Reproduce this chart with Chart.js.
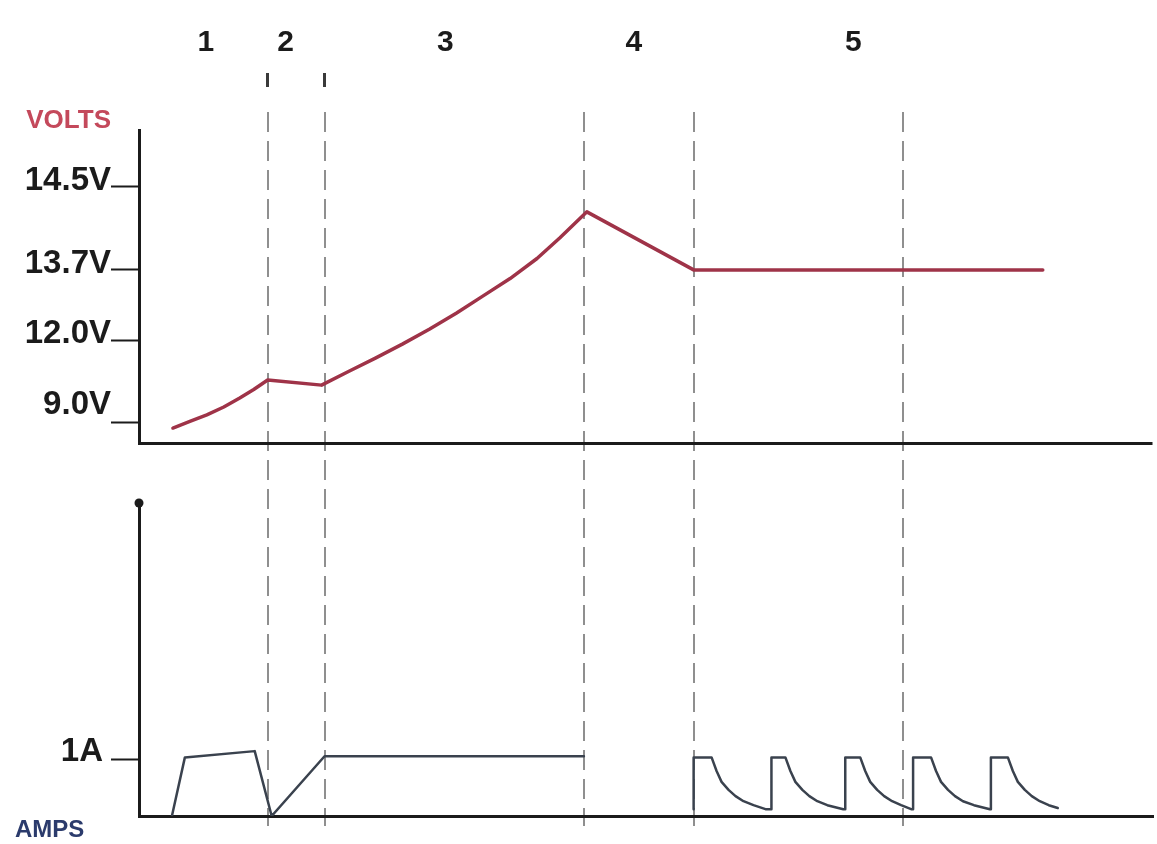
<!DOCTYPE html>
<html>
<head>
<meta charset="utf-8">
<script src="https://cdn.jsdelivr.net/npm/chart.js@4.4.1/dist/chart.umd.min.js"></script>
<style>
  html, body { margin: 0; padding: 0; background: #ffffff; }
  #wrap { position: relative; width: 1157px; height: 844px; }
</style>
</head>
<body>
<div id="wrap"><canvas id="c"></canvas></div>
<script>
// ---------------- data ----------------
const X_MIN = 0, X_MAX = 101.6;                 // time axis (arbitrary units)
const phaseBoundaries = [12.9, 18.6, 44.6, 55.6, 76.6];
const phaseLabels = ['1', '2', '3', '4', '5'];
const phaseLabelPos = [6.7, 14.7, 30.7, 49.6, 71.6];
const phase2Marks = [12.9, 18.6];

const voltTicks = [9.0, 12.0, 13.7, 14.5];
const voltTickLabels = ['9.0V', '12.0V', '13.7V', '14.5V'];
const voltMin = 8.23, voltMax = 15.05;
const voltTime   = [3.4, 5.1, 6.8, 8.5, 10.1, 11.5, 12.9,
  18.3, 21.0, 23.7, 26.4, 29.1, 31.8, 34.5, 37.2, 39.9, 42.2, 44.9,
  55.6, 90.6];
const voltValues = [8.78, 9.02, 9.26, 9.55, 9.88, 10.19, 10.54,
  10.35, 10.85, 11.34, 11.85, 12.26, 12.65, 13.07, 13.49, 13.81, 14.01, 14.26,
  13.7, 13.7];

const ampTicks = [1];
const ampTickLabels = ['1A'];
const ampMin = 0, ampMax = 5.5;
const ampTime = [3.3, 4.6, 11.6, 13.3, 18.6, 44.6, 50.0,
  55.6, 55.6, 57.4, 57.9, 58.4, 59.1, 59.8, 60.6, 61.6, 62.8,
  63.4, 63.4, 64.8, 65.3, 65.8, 66.5, 67.2, 68.0, 69.0, 70.6,
  70.8, 70.8, 72.3, 72.8, 73.3, 74.0, 74.7, 75.5, 76.4, 77.4,
  77.6, 77.6, 79.4, 79.9, 80.4, 81.1, 81.8, 82.6, 83.7, 85.3,
  85.4, 85.4, 87.1, 87.6, 88.1, 88.8, 89.5, 90.3, 91.2, 92.1];
const ampValues = [0, 1.03, 1.14, 0, 1.05, 1.05, null,
  0.12, 1.03, 1.03, 0.79, 0.60, 0.46, 0.35, 0.26, 0.19, 0.12,
  0.12, 1.03, 1.03, 0.79, 0.60, 0.46, 0.35, 0.26, 0.19, 0.12,
  0.12, 1.03, 1.03, 0.79, 0.60, 0.46, 0.35, 0.26, 0.19, 0.12,
  0.12, 1.03, 1.03, 0.79, 0.60, 0.46, 0.35, 0.26, 0.19, 0.12,
  0.12, 1.03, 1.03, 0.79, 0.60, 0.46, 0.35, 0.26, 0.19, 0.14];

// ---------------- non-linear voltage axis (schematic spacing) ----------------
// [value, fraction of axis height from bottom]
const VOLT_STOPS = [[voltMin, 0], [9.0, 0.067], [12.0, 0.329], [13.7, 0.553], [14.5, 0.818], [voltMax, 1]];

class PiecewiseScale extends Chart.LinearScale {
  getPixelForValue(value) {
    if (value === null || value === undefined || isNaN(value)) return NaN;
    const s = VOLT_STOPS;
    let i = 1;
    while (i < s.length - 1 && value > s[i][0]) i++;
    const a = s[i - 1], b = s[i];
    const dec = a[1] + (value - a[0]) * (b[1] - a[1]) / (b[0] - a[0]);
    return this.getPixelForDecimal(dec);
  }
  getValueForPixel(pixel) {
    const dec = this.getDecimalForPixel(pixel);
    const s = VOLT_STOPS;
    let i = 1;
    while (i < s.length - 1 && dec > s[i][1]) i++;
    const a = s[i - 1], b = s[i];
    return a[0] + (dec - a[1]) * (b[0] - a[0]) / (b[1] - a[1]);
  }
}
PiecewiseScale.id = 'piecewise';
PiecewiseScale.defaults = Chart.LinearScale.defaults;
Chart.register(PiecewiseScale);

// ---------------- chart ----------------
const FAMILY = '"Liberation Sans", Arial, Helvetica, sans-serif';
const INK = '#1b1b1b';
const DASH_GREY = '#8f8f8f';
const LEFT_W = 124;
Chart.defaults.font.family = FAMILY;

new Chart(document.getElementById('c'), {
  type: 'line',
  data: {
    datasets: [
      {
        label: 'Volts',
        data: voltTime.map((t, i) => ({ x: t, y: voltValues[i] })),
        xAxisID: 'x', yAxisID: 'yV',
        borderColor: '#9f3348', borderWidth: 3.5, pointRadius: 0, tension: 0,
        borderJoinStyle: 'round', borderCapStyle: 'round', fill: false
      },
      {
        label: 'Amps',
        data: ampTime.map((t, i) => ({ x: t, y: ampValues[i] })),
        xAxisID: 'x', yAxisID: 'yA',
        borderColor: '#3a424e', borderWidth: 2.5, pointRadius: 0, tension: 0,
        borderJoinStyle: 'round', borderCapStyle: 'round', fill: false, spanGaps: false
      },
      {
        label: 'axis end',
        data: [{ x: X_MIN, y: ampMax }],
        xAxisID: 'x', yAxisID: 'yA',
        showLine: false, pointRadius: 4.5, pointBackgroundColor: INK,
        pointBorderWidth: 0, clip: false
      }
    ]
  },
  options: {
    responsive: true,
    maintainAspectRatio: false,
    animation: false,
    events: [],
    layout: { padding: { left: 15, right: 2, top: 0, bottom: 0 } },
    plugins: {
      legend: { display: false },
      tooltip: { enabled: false },
      title: {
        display: true, text: 'AMPS', position: 'bottom', align: 'start',
        color: '#2b3b6c',
        font: { family: FAMILY, size: 24, weight: 'bold', lineHeight: 1 },
        padding: { top: 2, bottom: 2 }
      }
    },
    scales: {
      x: {
        type: 'linear', position: 'bottom', min: X_MIN, max: X_MAX,
        afterBuildTicks: s => { s.ticks = phaseBoundaries.map(v => ({ value: v })); },
        afterFit: s => { s.height = 0; },
        ticks: { display: false },
        grid: {
          display: true, drawOnChartArea: true, drawTicks: true, tickLength: 10,
          color: DASH_GREY, lineWidth: 2, tickColor: DASH_GREY, tickWidth: 2
        },
        border: { display: true, color: INK, width: 3, dash: [20, 9] }
      },
      xTop: {
        type: 'linear', position: 'top', min: X_MIN, max: X_MAX,
        afterBuildTicks: s => {
          s.ticks = [...phaseLabelPos, ...phase2Marks].sort((a, b) => a - b).map(v => ({ value: v }));
        },
        afterFit: s => { s.height = 112; },
        ticks: {
          autoSkip: false, maxRotation: 0, minRotation: 0, padding: 12,
          color: INK, font: { family: FAMILY, size: 30, weight: 'bold' },
          callback: (v) => { const i = phaseLabelPos.indexOf(v); return i < 0 ? '' : phaseLabels[i]; }
        },
        grid: {
          display: true, drawOnChartArea: false, drawTicks: true, tickLength: 39,
          tickColor: ctx => (ctx.tick && phase2Marks.includes(ctx.tick.value)) ? '#3a3a3a' : 'rgba(0,0,0,0)',
          tickWidth: 3, tickBorderDash: [14, 80]
        },
        border: { display: false }
      },
      yVt: {
        type: 'linear', position: 'left', stack: 'left', stackWeight: 18, weight: 4,
        min: 0, max: 1,
        afterBuildTicks: s => { s.ticks = [{ value: 0.5 }]; },
        afterFit: s => { s.width = LEFT_W; },
        ticks: {
          autoSkip: false, padding: 0, color: '#c4495b',
          font: { family: FAMILY, size: 26, weight: 'bold' },
          callback: () => 'VOLTS'
        },
        grid: { display: true, drawOnChartArea: false, drawTicks: true, tickLength: 28, tickColor: 'rgba(0,0,0,0)' },
        border: { display: false }
      },
      yV: {
        type: 'piecewise', position: 'left', stack: 'left', stackWeight: 313, weight: 3,
        min: voltMin, max: voltMax,
        afterBuildTicks: s => { s.ticks = [voltMin, ...voltTicks].map(v => ({ value: v })); },
        afterFit: s => { s.width = LEFT_W; },
        ticks: {
          autoSkip: false, padding: 0, labelOffset: -6, color: INK,
          font: ctx => ({
            family: FAMILY, size: 33, weight: 'bold',
            lineHeight: (ctx.tick && ctx.tick.value === voltTicks[0]) ? 0.67 : 1.2
          }),
          callback: (v) => {
            const i = voltTicks.indexOf(v);
            if (i < 0) return '';
            return i === 0 ? [voltTickLabels[i], ''] : voltTickLabels[i];
          }
        },
        grid: {
          display: true, drawOnChartArea: true, drawTicks: true, tickLength: 28,
          color: ctx => (ctx.tick && ctx.tick.value === voltMin) ? INK : 'rgba(0,0,0,0)',
          lineWidth: ctx => (ctx.tick && ctx.tick.value === voltMin) ? 3 : 1,
          tickColor: ctx => (ctx.tick && ctx.tick.value === voltMin) ? 'rgba(0,0,0,0)' : INK,
          tickWidth: 2
        },
        border: { display: true, color: INK, width: 3 }
      },
      yGap: {
        type: 'linear', position: 'left', stack: 'left', stackWeight: 60, weight: 2,
        min: 0, max: 1,
        afterFit: s => { s.width = LEFT_W; },
        ticks: { display: false },
        grid: { display: false, drawTicks: false },
        border: { display: false }
      },
      yA: {
        type: 'linear', position: 'left', stack: 'left', stackWeight: 313, weight: 1,
        min: ampMin, max: ampMax,
        afterBuildTicks: s => { s.ticks = ampTicks.map(v => ({ value: v })); },
        afterFit: s => { s.width = LEFT_W; },
        ticks: {
          autoSkip: false, padding: 8, labelOffset: -7, color: INK,
          font: { family: FAMILY, size: 33, weight: 'bold' },
          callback: (v) => { const i = ampTicks.indexOf(v); return i < 0 ? '' : ampTickLabels[i]; }
        },
        grid: { display: true, drawOnChartArea: false, drawTicks: true, tickLength: 28, tickColor: INK, tickWidth: 2 },
        border: { display: true, color: INK, width: 3 }
      }
    }
  }
});
</script>
</body>
</html>
